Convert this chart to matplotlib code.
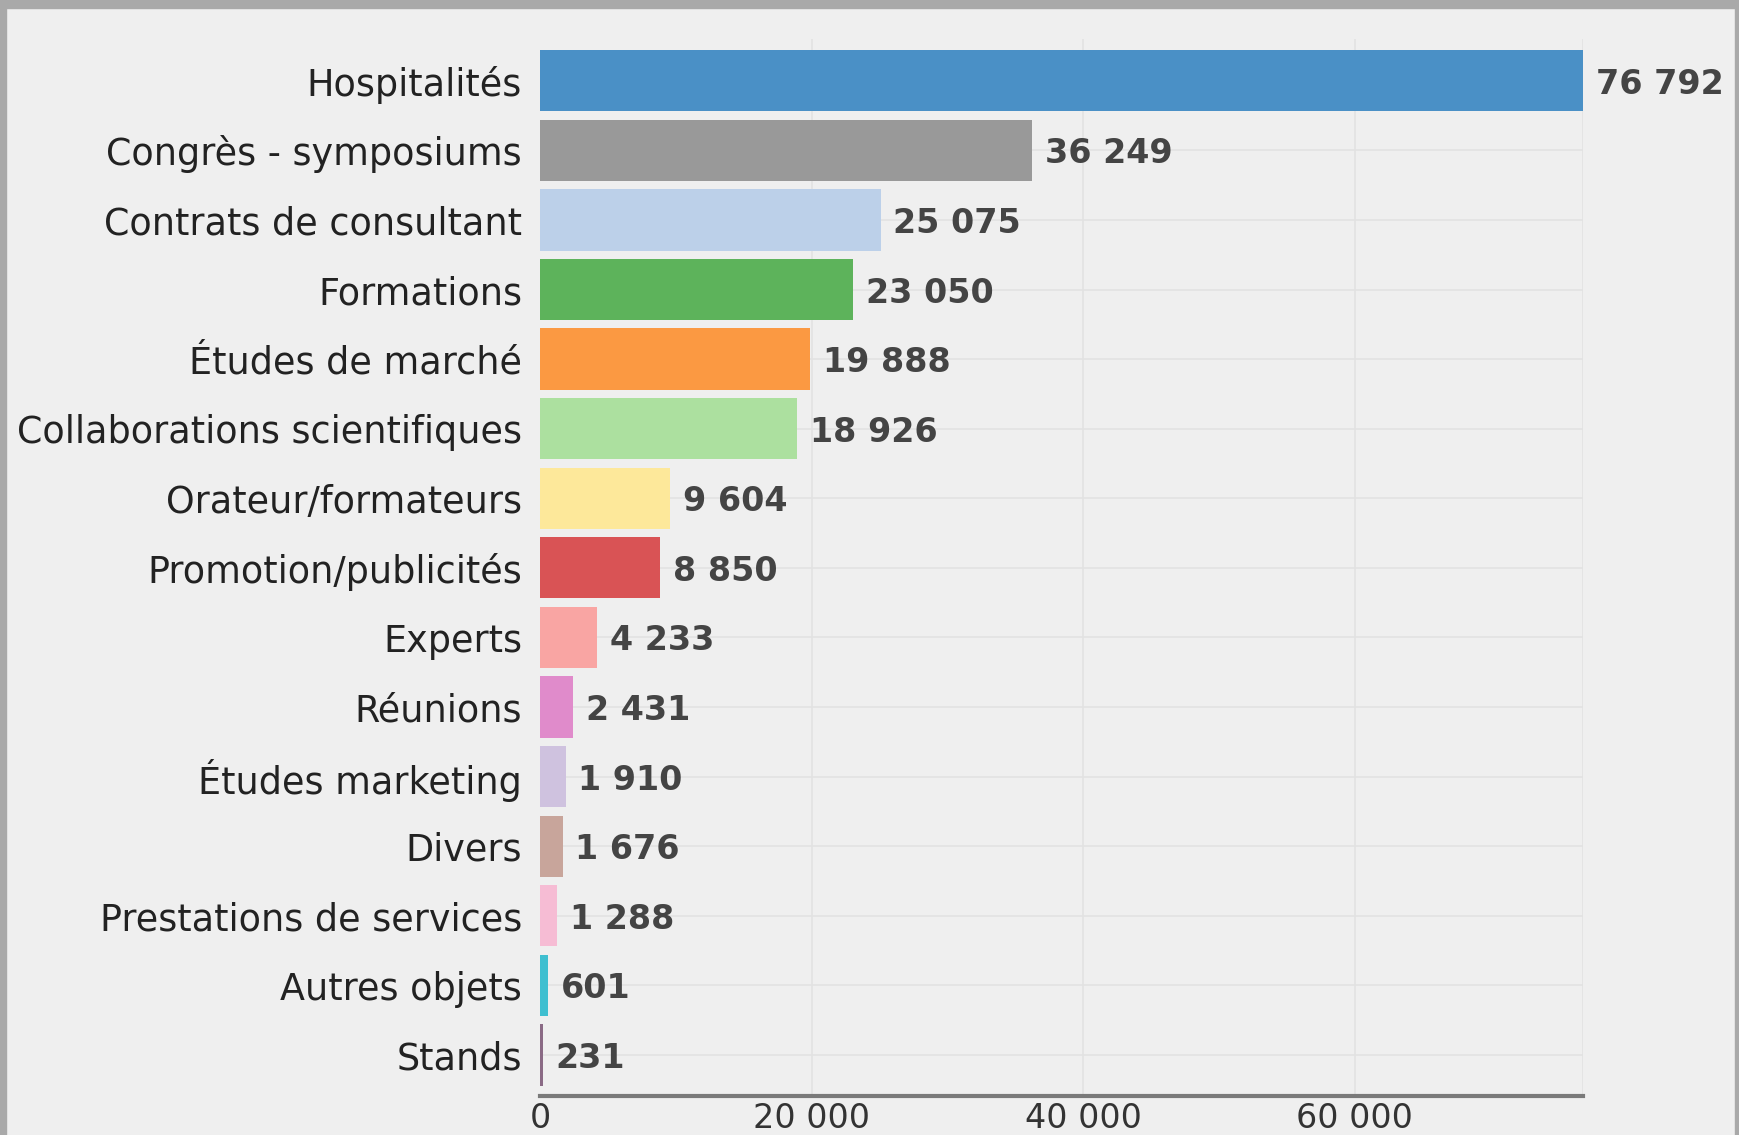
'''
Horizontal bar chart of amounts by category of benefit.
'''
import matplotlib
matplotlib.use('Agg')
import matplotlib.pyplot as plt
from matplotlib.patches import Rectangle

categories = ['Hospitalités', 'Congrès - symposiums', 'Contrats de consultant',
              'Formations', 'Études de marché', 'Collaborations scientifiques',
              'Orateur/formateurs', 'Promotion/publicités', 'Experts', 'Réunions',
              'Études marketing', 'Divers', 'Prestations de services',
              'Autres objets', 'Stands']
values = [76792, 36249, 25075, 23050, 19888, 18926, 9604, 8850, 4233, 2431,
          1910, 1676, 1288, 601, 231]
colors = ['#4a90c6', '#999999', '#bcd0e9', '#5db35b', '#fb9942', '#ace09f',
          '#fde89a', '#d95355', '#f9a5a3', '#e08bcb', '#cfc2df', '#c8a59b',
          '#f6bcd4', '#3fbfd0', '#8a6a85']
xticks = [0, 20000, 40000, 60000]


def fmt(v):
    return f'{v:,}'.replace(',', ' ')


plt.rcParams['font.family'] = ['DejaVu Sans']

bg = '#efefef'
fig = plt.figure(figsize=(17.39, 11.35), dpi=100, facecolor=bg)
ax = fig.add_axes([540 / 1739, 39 / 1135, (1583 - 540) / 1739, (1096 - 39) / 1135])
ax.set_facecolor(bg)

ypos = list(range(len(categories)))
ax.barh(ypos, values, height=0.88, color=colors, zorder=2)

for y, v in zip(ypos, values):
    ax.annotate(fmt(v), (v, y), xytext=(9, 0), textcoords='offset points',
                ha='left', va='center_baseline', fontsize=24, fontweight='bold',
                color='#444444', zorder=3)

ax.set_ylim(14.59, -0.6)
ax.set_xlim(0, max(values))
ax.set_yticks(ypos)
ax.set_yticklabels(categories, fontsize=26.3, color='#222222')
ax.set_xticks(xticks)
ax.set_xticklabels([fmt(t) for t in xticks], fontsize=24, color='#333333')
ax.tick_params(axis='y', length=0, pad=13)
ax.tick_params(axis='x', length=0, pad=4)

# light grid behind bars
for y in ypos:
    ax.axhline(y, color='#e2e2e2', linewidth=1.2, zorder=0)
for t in xticks[1:] + [max(values)]:
    ax.axvline(t, color='#e2e2e2', linewidth=1.2, zorder=0)

for side in ['top', 'right', 'left']:
    ax.spines[side].set_visible(False)
ax.spines['bottom'].set_color('#7a7a7a')
ax.spines['bottom'].set_linewidth(3)

# grey frame around the picture
frame = '#a9a9a9'
fig.patches.append(Rectangle((0, 1 - 8 / 1135), 1, 8 / 1135, transform=fig.transFigure,
                             color=frame, zorder=10))
fig.patches.append(Rectangle((0, 0), 6 / 1739, 1, transform=fig.transFigure,
                             color=frame, zorder=10))
fig.patches.append(Rectangle((1 - 4 / 1739, 0), 4 / 1739, 1, transform=fig.transFigure,
                             color=frame, zorder=10))

fig.savefig('out.png', dpi=100, facecolor=bg)
